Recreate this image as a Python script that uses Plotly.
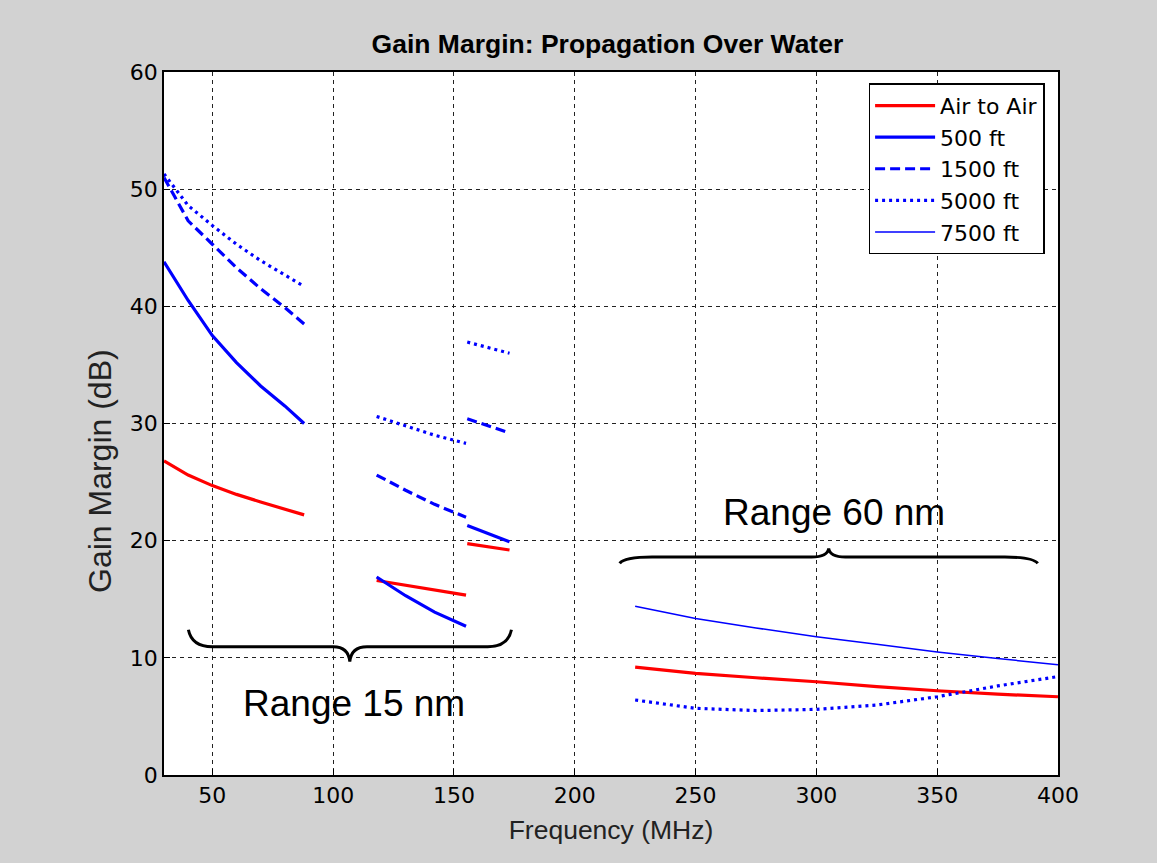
import plotly.graph_objects as go

# ---------------- data ----------------
# Band A: 30-88 MHz
freq_a = [30, 40, 50, 60, 70, 80, 88]
air_a = [26.8, 25.6, 24.7, 23.95, 23.3, 22.7, 22.2]
ft500_a = [43.8, 40.5, 37.5, 35.2, 33.2, 31.5, 30.0]
ft1500_a = [51.0, 47.3, 45.3, 43.3, 41.5, 39.9, 38.5]
ft5000_a = [51.3, 48.6, 46.9, 45.3, 43.9, 42.7, 41.7]

# Band B: 118-155 MHz
freq_b = [118, 130, 142, 155]
air_b = [16.6, 16.2, 15.8, 15.35]
ft500_b = [16.9, 15.3, 13.9, 12.7]
ft1500_b = [25.6, 24.3, 23.1, 22.0]
ft5000_b = [30.6, 29.8, 29.0, 28.3]

# Band C: 155-173 MHz
freq_c = [155.5, 164, 173]
air_c = [19.75, 19.5, 19.2]
ft500_c = [21.3, 20.6, 19.9]
ft1500_c = [30.4, 29.8, 29.2]
ft5000_c = [36.95, 36.5, 36.0]

# Band D: 225-400 MHz
freq_d = [225, 250, 275, 300, 325, 350, 375, 400]
air_d = [9.2, 8.67, 8.3, 7.96, 7.55, 7.19, 6.9, 6.68]
ft5000_d = [6.4, 5.69, 5.5, 5.6, 5.97, 6.68, 7.6, 8.4]
ft7500_d = [14.4, 13.35, 12.55, 11.8, 11.15, 10.5, 9.95, 9.4]

x_ticks = [50, 100, 150, 200, 250, 300, 350, 400]
y_ticks = [0, 10, 20, 30, 40, 50, 60]

series_names = ["Air to Air", "500 ft", "1500 ft", "5000 ft", "7500 ft"]

range15_label = "Range 15 nm"
range60_label = "Range 60 nm"


def join(*segs):
    xs, ys = [], []
    for fx, fy in segs:
        if xs:
            xs.append(None)
            ys.append(None)
        xs.extend(fx)
        ys.extend(fy)
    return xs, ys


series = [
    (join((freq_a, air_a), (freq_b, air_b), (freq_c, air_c), (freq_d, air_d)),
     dict(color="#ff0000", width=3.2, dash="solid")),
    (join((freq_a, ft500_a), (freq_b, ft500_b), (freq_c, ft500_c)),
     dict(color="#0000ff", width=3.2, dash="solid")),
    (join((freq_a, ft1500_a), (freq_b, ft1500_b), (freq_c, ft1500_c)),
     dict(color="#0000ff", width=3.2, dash="10px,5px")),
    (join((freq_a, ft5000_a), (freq_b, ft5000_b), (freq_c, ft5000_c), (freq_d, ft5000_d)),
     dict(color="#0000ff", width=3.2, dash="3px,4px")),
    (join((freq_d, ft7500_d),),
     dict(color="#0000ff", width=1.5, dash="solid")),
]

fig = go.Figure()
for i, ((xs, ys), line) in enumerate(series):
    fig.add_trace(go.Scatter(
        x=xs, y=ys, mode="lines", name=series_names[i], line=line,
        connectgaps=False, legendgroup=series_names[i],
    ))

FONT = "Arial, Liberation Sans, sans-serif"
WIDE = "DejaVu Sans, Arial, sans-serif"

# braces
brace_line = dict(color="black", width=3)
fig.add_shape(type="path", xref="x", yref="y", line=brace_line,
              path=("M 40.1,12.4 Q 41.5,10.95 50,10.95 L 100,10.95 "
                    "Q 106.3,10.95 106.9,9.67 Q 107.5,10.95 114,10.95 "
                    "L 164,10.95 Q 172.4,10.95 173.8,12.4"))
fig.add_shape(type="path", xref="x", yref="y", line=brace_line,
              path=("M 218.6,18.06 Q 220.5,18.6 232,18.6 L 298,18.6 "
                    "Q 304.6,18.6 305.1,19.34 Q 305.6,18.6 312,18.6 "
                    "L 378,18.6 Q 389.7,18.6 391.6,18.06"))

fig.add_annotation(x=108.6, y=6.14, xref="x", yref="y", text=range15_label,
                   showarrow=False, font=dict(family=FONT, size=37, color="black"))
fig.add_annotation(x=307.1, y=22.4, xref="x", yref="y", text=range60_label,
                   showarrow=False, font=dict(family=FONT, size=37, color="black"))

# y-axis label (placed like the reference, a little below the axis centre)
fig.add_annotation(x=-0.0716, y=0.4324, xref="paper", yref="paper",
                   text="Gain Margin (dB)", textangle=-90, showarrow=False,
                   xanchor="center", yanchor="middle",
                   font=dict(family=FONT, size=32, color="#222222"))

axis_common = dict(
    showline=True, linecolor="black", linewidth=1.5, mirror=True,
    showgrid=True, gridcolor="#222222", gridwidth=1, griddash="4px,4px",
    ticks="inside", ticklen=6, tickcolor="black", tickwidth=1,
    zeroline=False, tickfont=dict(family=WIDE, size=22, color="black"),
)

fig.update_layout(
    width=1157, height=863,
    margin=dict(l=164, r=99, t=72, b=88),
    paper_bgcolor="#d2d2d2", plot_bgcolor="white",
    title=dict(text="<b>Gain Margin: Propagation Over Water</b>",
               x=0.525, xanchor="center", y=1 - 44 / 863, yanchor="middle",
               yref="container", font=dict(family=FONT, size=26.5, color="black")),
    xaxis=dict(range=[30, 400], tickvals=x_ticks, **axis_common,
               title=dict(text="Frequency (MHz)", standoff=13,
                          font=dict(family=FONT, size=26.5, color="#222222"))),
    yaxis=dict(range=[0, 60], tickvals=y_ticks, **axis_common),
    legend=dict(x=0.985, y=0.984, xanchor="right", yanchor="top",
                bgcolor="white", bordercolor="black", borderwidth=1.5,
                font=dict(family=WIDE, size=22, color="black"),
                traceorder="grouped", tracegroupgap=0, itemwidth=60),
    showlegend=True,
)

fig.write_html(
    "out.html",
    config={"displayModeBar": False},
    post_script="document.body.style.margin='0';document.body.style.background='#d2d2d2';",
)
